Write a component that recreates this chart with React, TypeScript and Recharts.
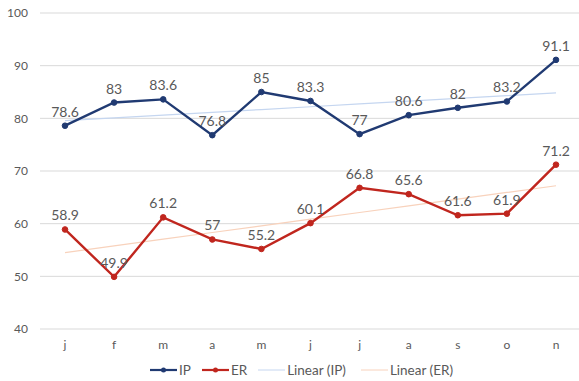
import React from "react";
import {
  LineChart,
  Line,
  XAxis,
  YAxis,
  CartesianGrid,
  LabelList,
} from "recharts";

const months = ["j", "f", "m", "a", "m", "j", "j", "a", "s", "o", "n"];
const ipValues = [78.6, 83, 83.6, 76.8, 85, 83.3, 77, 80.6, 82, 83.2, 91.1];
const erValues = [58.9, 49.9, 61.2, 57, 55.2, 60.1, 66.8, 65.6, 61.6, 61.9, 71.2];
const yTicks = [40, 50, 60, 70, 80, 90, 100];

const IP_COLOR = "#203a72";
const ER_COLOR = "#c0261e";
const IP_TREND = "#c5d6f0";
const ER_TREND = "#f8d2bc";
const FONT = "Lato, 'Open Sans', sans-serif";

// least squares trend, same as Excel's "Linear" trendline
const trend = (ys: number[]) => {
  const n = ys.length;
  const mx = (n - 1) / 2;
  const my = ys.reduce((a, b) => a + b, 0) / n;
  let num = 0;
  let den = 0;
  ys.forEach((y, i) => {
    num += (i - mx) * (y - my);
    den += (i - mx) * (i - mx);
  });
  const slope = num / den;
  return ys.map((_, i) => my + slope * (i - mx));
};

const ipTrend = trend(ipValues);
const erTrend = trend(erValues);

const data = months.map((m, i) => ({
  key: i,
  month: m,
  IP: ipValues[i],
  ER: erValues[i],
  ipTrend: ipTrend[i],
  erTrend: erTrend[i],
}));

const legendItems = [
  { label: "IP", color: IP_COLOR, dot: true, thick: true },
  { label: "ER", color: ER_COLOR, dot: true, thick: true },
  { label: "Linear (IP)", color: IP_TREND, dot: false, thick: false },
  { label: "Linear (ER)", color: ER_TREND, dot: false, thick: false },
];

const ChartLegend = () => (
  <div
    style={{
      position: "absolute",
      left: 150,
      top: 362,
      display: "flex",
      gap: 11,
      fontFamily: FONT,
      fontSize: 13.5,
      color: "#595959",
      alignItems: "center",
    }}
  >
    {legendItems.map((it) => (
      <div key={it.label} style={{ display: "flex", alignItems: "center", marginRight: it.dot ? 0 : 4 }}>
        <svg width={27} height={10}>
          <line
            x1={0}
            y1={5}
            x2={27}
            y2={5}
            stroke={it.color}
            strokeWidth={it.thick ? 2.2 : 1}
          />
          {it.dot && <circle cx={13.5} cy={5} r={2.5} fill={it.color} />}
        </svg>
        <span style={{ marginLeft: 2 }}>{it.label}</span>
      </div>
    ))}
  </div>
);

const App = () => {
  return (
    <div style={{ position: "absolute", left: 0, top: 0, width: 579, height: 381, background: "#fff" }}>
      <LineChart
        width={579}
        height={381}
        data={data}
        margin={{ top: 13, right: 0, bottom: 22, left: 0 }}
      >
        <CartesianGrid vertical={false} stroke="#d9d9d9" strokeWidth={1} />
        <XAxis
          dataKey="key"
          tickFormatter={(v) => months[v]}
          tickLine={false}
          axisLine={false}
          tickSize={0}
          tickMargin={11}
          height={30}
          padding={{ left: 25, right: 23 }}
          tick={{ fill: "#595959", fontSize: 12, fontFamily: FONT }}
          interval={0}
        />
        <YAxis
          domain={[40, 100]}
          ticks={yTicks}
          width={40}
          tickLine={false}
          axisLine={false}
          tickSize={0}
          tickMargin={12}
          tick={{ fill: "#595959", fontSize: 12, fontFamily: FONT }}
        />
        <Line
          dataKey="ipTrend"
          stroke={IP_TREND}
          strokeWidth={1.2}
          dot={false}
          activeDot={false}
          isAnimationActive={false}
        />
        <Line
          dataKey="erTrend"
          stroke={ER_TREND}
          strokeWidth={1.2}
          dot={false}
          activeDot={false}
          isAnimationActive={false}
        />
        <Line
          dataKey="IP"
          stroke={IP_COLOR}
          strokeWidth={2.4}
          dot={{ r: 2.8, fill: IP_COLOR, stroke: IP_COLOR, strokeWidth: 1 }}
          isAnimationActive={false}
        >
          <LabelList
            dataKey="IP"
            position="top"
            offset={9}
            fill="#595959"
            fontSize={14}
            fontFamily={FONT}
          />
        </Line>
        <Line
          dataKey="ER"
          stroke={ER_COLOR}
          strokeWidth={2.4}
          dot={{ r: 2.8, fill: ER_COLOR, stroke: ER_COLOR, strokeWidth: 1 }}
          isAnimationActive={false}
        >
          <LabelList
            dataKey="ER"
            position="top"
            offset={9}
            fill="#595959"
            fontSize={14}
            fontFamily={FONT}
          />
        </Line>
      </LineChart>
      <ChartLegend />
    </div>
  );
};

export default App;
